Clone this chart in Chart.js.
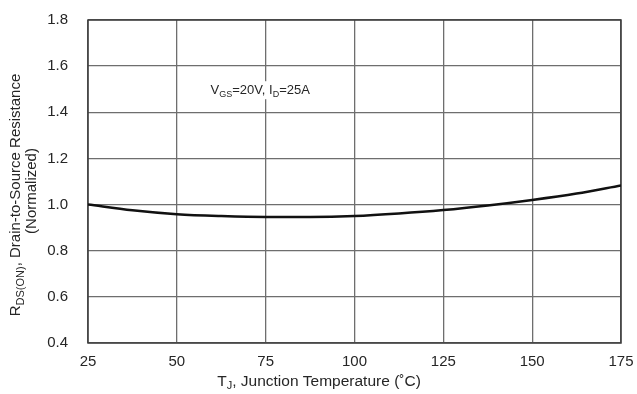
<!DOCTYPE html>
<html>
<head>
<meta charset="utf-8">
<script src="https://cdn.jsdelivr.net/npm/chart.js@4/dist/chart.umd.min.js"></script>
<style>
  html, body { margin: 0; padding: 0; background: #ffffff; }
  #wrap { width: 637px; height: 394px; }
</style>
</head>
<body>
<div id="wrap"><canvas id="c" width="637" height="394"></canvas></div>
<script>
// Junction temperature (°C) and normalized on-resistance
const temps = [25, 37.5, 50, 62.5, 75, 87.5, 100, 112.5, 125, 137.5, 150, 162.5, 175];
const rdsOn = [1.000, 0.975, 0.958, 0.950, 0.946, 0.946, 0.950, 0.961, 0.976, 0.996, 1.020, 1.048, 1.083];

// Axis tick labels
const xTicks = [25, 50, 75, 100, 125, 150, 175];
const yTicks = [0.4, 0.6, 0.8, 1.0, 1.2, 1.4, 1.6, 1.8];

// Test condition note, placed in data coordinates
const noteAt = { x: 59.5, y: 1.5 };

const FONT = '"Liberation Sans", Arial, sans-serif';
const TEXT = '#262626';

// Text runs made of [text, isSubscript] pieces
function richWidth(ctx, parts, size) {
  let w = 0;
  for (const [t, sub] of parts) {
    ctx.font = (sub ? Math.round(size * 0.7) : size) + 'px ' + FONT;
    w += ctx.measureText(t).width;
  }
  return w;
}
function drawRich(ctx, parts, x, y, size) {
  let cx = x;
  ctx.textBaseline = 'alphabetic';
  ctx.textAlign = 'left';
  for (const [t, sub] of parts) {
    const s = sub ? Math.round(size * 0.7) : size;
    ctx.font = s + 'px ' + FONT;
    ctx.fillText(t, cx, y + size * 0.36 + (sub ? size * 0.25 : 0));
    cx += ctx.measureText(t).width;
  }
}

const labelsPlugin = {
  id: 'labels',
  beforeDatasetsDraw(chart) {
    // dark frame around the plot area
    const { ctx, chartArea: a } = chart;
    ctx.save();
    ctx.strokeStyle = '#3c3c3c';
    ctx.lineWidth = 1.5;
    ctx.strokeRect(a.left, a.top, a.right - a.left, a.bottom - a.top);
    ctx.restore();
  },
  afterDatasetsDraw(chart) {
    const { ctx, scales } = chart;
    ctx.save();

    // condition note with a white backing over the grid
    const note = [['V', false], ['GS', true], ['=20V, I', false], ['D', true], ['=25A', false]];
    const nx = scales.x.getPixelForValue(noteAt.x);
    const ny = scales.y.getPixelForValue(noteAt.y);
    const nw = richWidth(ctx, note, 13);
    ctx.fillStyle = '#ffffff';
    ctx.fillRect(nx - 2, ny - 8, nw + 4, 18);
    ctx.fillStyle = TEXT;
    drawRich(ctx, note, nx, ny, 13);

    // x axis title
    const xt = [['T', false], ['J', true], [', Junction Temperature (\u02DAC)', false]];
    const xw = richWidth(ctx, xt, 15.5);
    drawRich(ctx, xt, 319 - xw / 2, 380, 15.5);

    // y axis title, two rotated lines
    const l1 = [['R', false], ['DS(ON)', true], [', Drain-to-Source Resistance', false]];
    const l2 = [['(Normalized)', false]];
    const cy = 195;
    ctx.save();
    ctx.translate(15, cy);
    ctx.rotate(-Math.PI / 2);
    drawRich(ctx, l1, -richWidth(ctx, l1, 15) / 2, 0, 15);
    ctx.restore();
    ctx.save();
    ctx.translate(31, cy - 4);
    ctx.rotate(-Math.PI / 2);
    drawRich(ctx, l2, -richWidth(ctx, l2, 15) / 2, 0, 15);
    ctx.restore();

    ctx.restore();
  }
};

new Chart(document.getElementById('c'), {
  type: 'line',
  data: {
    datasets: [{
      data: temps.map((t, i) => ({ x: t, y: rdsOn[i] })),
      borderColor: '#111111',
      borderWidth: 2.5,
      pointRadius: 0,
      fill: false,
      cubicInterpolationMode: 'monotone'
    }]
  },
  options: {
    responsive: false,
    animation: false,
    devicePixelRatio: 1,
    layout: { padding: 0 },
    plugins: { legend: { display: false }, tooltip: { enabled: false } },
    scales: {
      x: {
        type: 'linear',
        min: xTicks[0],
        max: xTicks[xTicks.length - 1],
        afterBuildTicks: s => { s.ticks = xTicks.map(v => ({ value: v })); },
        afterFit: s => { s.height = 51; s.paddingLeft = 0; s.paddingRight = 16; },
        grid: { color: '#6e6e6e', lineWidth: 1.3, drawTicks: false },
        border: { display: false },
        ticks: {
          padding: 10,
          color: TEXT,
          font: { family: FONT, size: 15 },
          callback: v => String(v)
        }
      },
      y: {
        type: 'linear',
        min: yTicks[0],
        max: yTicks[yTicks.length - 1],
        afterBuildTicks: s => { s.ticks = yTicks.map(v => ({ value: v })); },
        afterFit: s => { s.width = 88; s.paddingTop = 20; s.paddingBottom = 0; },
        grid: { color: '#6e6e6e', lineWidth: 1.3, drawTicks: false },
        border: { display: false },
        ticks: {
          padding: 20,
          color: TEXT,
          font: { family: FONT, size: 15 },
          callback: v => Number(v).toFixed(1)
        }
      }
    }
  },
  plugins: [labelsPlugin]
});
</script>
</body>
</html>
